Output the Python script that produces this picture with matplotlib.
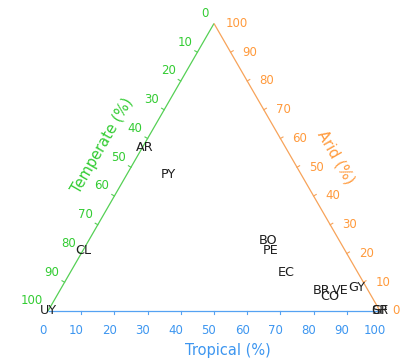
import numpy as np
import matplotlib
matplotlib.use("Agg")
import matplotlib.pyplot as plt

# ---- data (percentages) ----
countries = ['UY', 'CL', 'AR', 'PY', 'BO', 'PE', 'EC', 'BR', 'CO', 'VE', 'GY', 'GF', 'SR']
tropical = [0, 0, 0.5, 12.5, 54, 56.5, 65, 79, 82.5, 84.5, 89, 100, 100]
temperate = [100, 79, 42.5, 40, 21.5, 22.5, 21.5, 14, 12.5, 8.5, 3, 0, 0]
arid = [0, 21, 57, 47.5, 24.5, 21, 13.5, 7, 5, 7, 8, 0, 0]
tick_values = [0, 10, 20, 30, 40, 50, 60, 70, 80, 90, 100]

GREEN = '#33cc33'
ORANGE = '#ff9a3c'
BLUE = '#3d96f0'
S3 = np.sqrt(3) / 2

def to_xy(trop, arid_):
    t = np.asarray(trop, float) / 100.0
    a = np.asarray(arid_, float) / 100.0
    return t + a / 2.0, a * S3

W, H = 400, 359
fig = plt.figure(figsize=(W / 100, H / 100), dpi=100)
ax = fig.add_axes([0, 0, 1, 1])
L = 332.0  # triangle side in pixels
x0, y0 = 48.0, 311.0  # bottom-left vertex in pixels (y down)
ax.set_xlim(-x0 / L, (W - x0) / L)
ax.set_ylim(-(H - y0) / L, y0 / L)
ax.axis('off')
px = 1.0 / L  # one pixel in data units

# edges
ax.plot([0, 0.5], [0, S3], color='#55d055', lw=0.9, solid_capstyle='butt')   # left (temperate)
ax.plot([1, 0.5], [0, S3], color='#f7a35a', lw=0.9, solid_capstyle='butt')   # right (arid)
ax.plot([0, 1], [0, 0], color='#55a2f2', lw=0.9, solid_capstyle='butt')      # bottom (tropical)

tk = 3 * px
fs_tick = 8.5
for v in tick_values:
    # temperate along left edge: temperate=v, tropical=0, arid=100-v
    ex, ey = to_xy(0, 100 - v)
    if 0 < v < 100:
        ax.plot([ex, ex - 0.866 * tk], [ey, ey + 0.5 * tk], color='#55d055', lw=0.8)
    ax.text(ex - 5 * px, ey + 10 * px, str(v), color=GREEN, fontsize=fs_tick,
            ha='right', va='center')
    # arid along right edge: arid=v, tropical=100-v
    ex, ey = to_xy(100 - v, v)
    if 0 < v < 100:
        ax.plot([ex, ex + 0.866 * tk], [ey, ey + 0.5 * tk], color='#f7a35a', lw=0.8)
    ax.text(ex + 12 * px, ey, str(v), color=ORANGE, fontsize=fs_tick,
            ha='left', va='center')
    # tropical along bottom
    ex, ey = to_xy(v, 0)
    if 0 < v < 100:
        ax.plot([ex, ex], [ey, ey - tk], color='#55a2f2', lw=0.8)
    ax.text(ex - 5 * px, ey - 19 * px, str(v), color=BLUE, fontsize=fs_tick,
            ha='center', va='center')

# axis titles
ax.text((102 - x0) * px, (y0 - 146) * px, 'Temperate (%)', color=GREEN, fontsize=10.5,
        rotation=60, ha='center', va='center', rotation_mode='anchor')
ax.text((336 - x0) * px, (y0 - 157) * px, 'Arid (%)', color=ORANGE, fontsize=10.5,
        rotation=-60, ha='center', va='center', rotation_mode='anchor')
ax.text((228 - x0) * px, (y0 - 350) * px, 'Tropical (%)', color=BLUE, fontsize=10.5,
        ha='center', va='center')

# country labels
xs, ys = to_xy(tropical, arid)
for name, x, y in zip(countries, xs, ys):
    ax.text(x, y, name, color='#1e1e1e', fontsize=9.2, ha='center', va='center')

fig.savefig('out.png', dpi=100, facecolor='white')
